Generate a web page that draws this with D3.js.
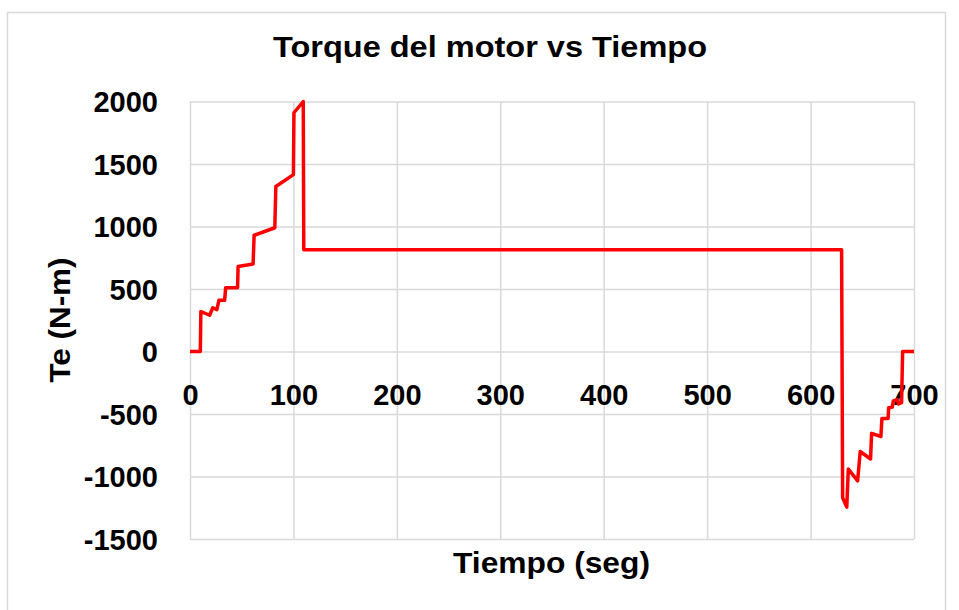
<!DOCTYPE html>
<html>
<head>
<meta charset="utf-8">
<script src="https://cdn.jsdelivr.net/npm/d3@7/dist/d3.min.js"></script>
<style>
  html, body { margin: 0; padding: 0; background: #ffffff; }
  svg { display: block; }
  text { font-family: "Liberation Sans", Arial, sans-serif; font-weight: bold; fill: #000; }
</style>
</head>
<body>
<svg id="chart" width="959" height="610"></svg>
<script>
// Motor torque over time (seconds, N-m)
const tiempo = [0, 10, 10.5, 19, 22, 26, 28, 33.5, 34.5, 46, 46.5, 61, 62, 82, 83, 100, 100.5, 109.5, 110,
  630, 631, 635, 636.5, 645.5, 648, 658, 659, 668, 669, 675, 675.5, 679, 680, 684, 685, 688, 689, 700];
const torque = [0, 0, 320, 290, 350, 335, 410, 410, 510, 510, 680, 700, 930, 990, 1320, 1415, 1910, 2000, 815,
  815, -1170, -1245, -940, -1035, -800, -860, -655, -680, -535, -535, -450, -445, -395, -385, -420, -410, 0, 0];
const xTicks = [0, 100, 200, 300, 400, 500, 600, 700];
const yTicks = [-1500, -1000, -500, 0, 500, 1000, 1500, 2000];

const svg = d3.select("#chart");
const gridColor = "#d9d9d9";
const plain = d => String(d); // ASCII hyphen for negatives

// Outer chart frame
svg.append("rect")
  .attr("x", 7.5).attr("y", 12.5)
  .attr("width", 938).attr("height", 620)
  .attr("fill", "none").attr("stroke", gridColor).attr("stroke-width", 1.5);

const x = d3.scaleLinear().domain([0, 700]).range([190, 914]);
const y = d3.scaleLinear().domain([-1500, 2000]).range([539, 101.5]);

// Horizontal gridlines + y labels
const yAxis = svg.append("g")
  .attr("transform", `translate(${x(0)},0)`)
  .call(d3.axisLeft(y).tickValues(yTicks).tickSize(-(x(700) - x(0))).tickPadding(32).tickFormat(plain));
yAxis.select(".domain").remove();
yAxis.selectAll(".tick line").attr("stroke", gridColor).attr("stroke-width", 1.5);
yAxis.selectAll(".tick text")
  .attr("font-size", 29).attr("font-family", "Liberation Sans, Arial, sans-serif")
  .attr("font-weight", "bold").attr("fill", "#000").attr("dy", "0.36em");

// Vertical gridlines
const xGrid = svg.append("g")
  .attr("transform", `translate(0,${y(-1500)})`)
  .call(d3.axisBottom(x).tickValues(xTicks).tickSize(-(y(-1500) - y(2000))).tickFormat(""));
xGrid.select(".domain").remove();
xGrid.selectAll(".tick line").attr("stroke", gridColor).attr("stroke-width", 1.5);

// X labels sit just below the zero line
const xLab = svg.append("g")
  .attr("transform", `translate(0,${y(0)})`)
  .call(d3.axisBottom(x).tickValues(xTicks).tickSize(0).tickPadding(0).tickFormat(plain));
xLab.select(".domain").remove();
xLab.selectAll(".tick text")
  .attr("font-size", 29).attr("font-family", "Liberation Sans, Arial, sans-serif")
  .attr("font-weight", "bold").attr("fill", "#000")
  .attr("y", 53).attr("dy", 0);

// Torque line
const pts = tiempo.map((t, i) => [t, torque[i]]);
svg.append("path")
  .datum(pts)
  .attr("fill", "none")
  .attr("stroke", "#ff0000")
  .attr("stroke-width", 3.5)
  .attr("stroke-linejoin", "round")
  .attr("d", d3.line().x(d => x(d[0])).y(d => y(d[1])));

// Titles
svg.append("text")
  .attr("x", 490).attr("y", 57)
  .attr("text-anchor", "middle")
  .attr("font-size", 29)
  .attr("textLength", 434).attr("lengthAdjust", "spacingAndGlyphs")
  .text("Torque del motor vs Tiempo");

svg.append("text")
  .attr("x", 551.5).attr("y", 573)
  .attr("text-anchor", "middle")
  .attr("font-size", 30)
  .attr("textLength", 197).attr("lengthAdjust", "spacingAndGlyphs")
  .text("Tiempo (seg)");

svg.append("text")
  .attr("transform", "translate(70,320) rotate(-90)")
  .attr("text-anchor", "middle")
  .attr("font-size", 30)
  .attr("textLength", 125).attr("lengthAdjust", "spacingAndGlyphs")
  .text("Te (N-m)");
</script>
</body>
</html>
